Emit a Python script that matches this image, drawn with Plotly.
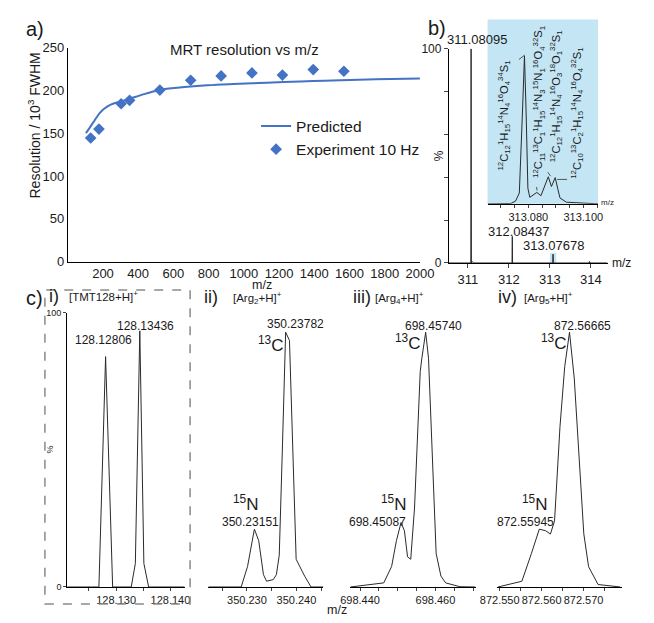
import plotly.graph_objects as go

W, H = 654, 623
FONT = "Liberation Sans, Arial, sans-serif"
INK = "#1a1a1a"
BLUE = "#4472C4"
SKY = "#c4e5f4"

# ---------------- panel a: resolution vs m/z ----------------
exp_mz = [130, 177, 303, 351, 523, 698, 871, 1046, 1219, 1394, 1568]
exp_res = [144.5, 155, 184.5, 188.5, 200.5, 212, 217, 220.5, 218, 224.5, 222.5]
pred_mz = [103, 126, 153, 180, 208, 244, 303, 352, 415, 523, 649, 793, 938,
           1082, 1226, 1394, 1551, 1750, 2000]
pred_res = [150.2, 157, 165.3, 173.3, 179, 183.6, 187.4, 190.4, 194.6, 200.7,
            203.7, 206, 207.5, 208.7, 209.8, 211, 212.1, 213, 214]
a_xticks = [200, 400, 600, 800, 1000, 1200, 1400, 1600, 1800, 2000]
a_yticks = [0, 50, 100, 150, 200, 250]

# ---------------- panel b: full spectrum ----------------
b_mz = [310.54, 311.074, 311.08095, 311.088, 311.10, 311.14, 312.078, 312.08437,
        312.091, 313.070, 313.07678, 313.084, 313.955, 313.965, 313.975, 314.40]
b_int = [0, 0, 100, 0, 0.8, 0, 0, 12.4, 0, 0, 4.1, 0, 0, 0.7, 0, 0]
b_peaks = [("311.08095", 311.08095), ("312.08437", 312.08437), ("313.07678", 313.07678)]
b_xticks = [311, 312, 313, 314]
b_yticks = [0, 20, 40, 60, 80, 100]
b_yticktext = ["0", "", "", "", "", "100"]

# inset: fine structure of the 313 cluster
ins_mz = [313.06522, 313.07363, 313.07536, 313.07675, 313.07785, 313.07862,
          313.07924, 313.07986, 313.08055, 313.08311, 313.08460, 313.08599,
          313.08727, 313.08841, 313.08979, 313.09066, 313.09152, 313.09384,
          313.09844, 313.10536]
ins_int = [0, 0.2, 1.8, 7.3, 60, 100, 60, 10.6, 4.4, 7.7, 5.5, 11.9, 18.3,
           11.7, 17.7, 10.6, 4.0, 1.1, 0.7, 0]
ins_ticks = [313.065, 313.070, 313.075, 313.080, 313.085, 313.090, 313.095, 313.100, 313.105]
ins_ticktext = ["", "", "", "313.080", "", "", "", "313.100", ""]
formulas = [
    "<sup>12</sup>C<sub>12</sub><sup>1</sup>H<sub>15</sub><sup>14</sup>N<sub>4</sub><sup>16</sup>O<sub>4</sub><sup>34</sup>S<sub>1</sub>",
    "<sup>12</sup>C<sub>11</sub><sup>13</sup>C<sub>1</sub><sup>1</sup>H<sub>15</sub><sup>14</sup>N<sub>3</sub><sup>15</sup>N<sub>1</sub><sup>16</sup>O<sub>4</sub><sup>32</sup>S<sub>1</sub>",
    "<sup>12</sup>C<sub>12</sub><sup>1</sup>H<sub>15</sub><sup>14</sup>N<sub>4</sub><sup>16</sup>O<sub>3</sub><sup>18</sup>O<sub>1</sub><sup>32</sup>S<sub>1</sub>",
    "<sup>12</sup>C<sub>10</sub><sup>13</sup>C<sub>2</sub><sup>1</sup>H<sub>15</sub><sup>14</sup>N<sub>4</sub><sup>16</sup>O<sub>4</sub><sup>32</sup>S<sub>1</sub>",
]

# ---------------- panel c: isotope fine structure ----------------
ci_mz = [128.12099, 128.12683, 128.12806, 128.12936, 128.13278, 128.13354,
         128.13436, 128.13511, 128.13599, 128.14262]
ci_int = [0, 0, 84.0, 0, 0, 8.6, 93.4, 8.6, 0, 0]
ci_ticks = [128.125, 128.130, 128.135, 128.140]
ci_ticktext = ["", "128.130", "", "128.140"]

cii_mz = [350.22224, 350.22884, 350.23013, 350.23151, 350.23238, 350.23334,
          350.23397, 350.23532, 350.23595, 350.23653, 350.23719, 350.23782,
          350.23859, 350.23994, 350.24167, 350.24295, 350.24545]
cii_int = [0, 0, 7.5, 21.1, 16.9, 4.5, 2.1, 2.7, 4.5, 11.6, 52.5, 92.9,
           89.9, 10.1, 3.9, 0, 0]
cii_ticks = [350.225, 350.230, 350.235, 350.240, 350.245]
cii_ticktext = ["", "350.230", "", "350.240", ""]

ciii_mz = [698.43745, 698.44629, 698.44838, 698.44965, 698.45087, 698.45177,
           698.45260, 698.45344, 698.45445, 698.45596, 698.45639, 698.45740,
           698.45816, 698.45917, 698.46018, 698.46144, 698.46270, 698.46649,
           698.47053]
ciii_int = [0, 1.5, 7.5, 16.9, 23.5, 20.5, 11.0, 10.1, 28.8, 78.6, 83.4, 92.9,
            83.4, 44.2, 12.2, 4.0, 1.5, 0.1, 0]
ciii_ticks = [698.440, 698.445, 698.450, 698.455, 698.460, 698.465, 698.470]
ciii_ticktext = ["698.440", "", "", "", "698.460", "", ""]

civ_mz = [872.54960, 872.55529, 872.55756, 872.55870, 872.55945, 872.56097,
          872.56210, 872.56308, 872.56438, 872.56551, 872.56665, 872.56778,
          872.56892, 872.57006, 872.57120, 872.57347, 872.57877]
civ_int = [0, 2.1, 12.2, 18.1, 21.1, 20.5, 19.3, 24.1, 58.5, 80.4, 92.9,
           76.2, 45.4, 19.4, 7.4, 0.9, 0]
civ_ticks = [872.550, 872.555, 872.560, 872.565, 872.570, 872.575]
civ_ticktext = ["872.550", "", "872.560", "", "872.570", ""]


def dom_x(x0, x1):
    return [x0 / W, x1 / W]


def dom_y(top, bottom):
    return [1 - bottom / H, 1 - top / H]


fig = go.Figure()

# panel a traces
fig.add_trace(go.Scatter(x=pred_mz, y=pred_res, mode="lines", name="Predicted",
                         line=dict(color=BLUE, width=2, shape="spline", smoothing=1.0),
                         xaxis="x", yaxis="y"))
fig.add_trace(go.Scatter(x=exp_mz, y=exp_res, mode="markers", name="Experiment 10 Hz",
                         marker=dict(symbol="diamond", size=9, color=BLUE),
                         xaxis="x", yaxis="y"))

spec_line = dict(color="#2a2a2a", width=1)
fig.add_trace(go.Scatter(x=b_mz, y=b_int, mode="lines", line=spec_line,
                         showlegend=False, xaxis="x2", yaxis="y2"))
fig.add_trace(go.Scatter(x=ins_mz, y=ins_int, mode="lines", line=spec_line,
                         showlegend=False, xaxis="x3", yaxis="y3"))
for i, (mz, it) in enumerate([(ci_mz, ci_int), (cii_mz, cii_int),
                              (ciii_mz, ciii_int), (civ_mz, civ_int)]):
    n = i + 4
    fig.add_trace(go.Scatter(x=mz, y=it, mode="lines", line=spec_line,
                             showlegend=False, xaxis=f"x{n}", yaxis=f"y{n}"))

axis_common = dict(showgrid=False, zeroline=False, showline=True, linecolor="black",
                   linewidth=1, tickfont=dict(family=FONT, color=INK))

layout = dict(
    width=W, height=H, margin=dict(l=0, r=0, t=0, b=0),
    paper_bgcolor="white", plot_bgcolor="rgba(0,0,0,0)",
    font=dict(family=FONT, color=INK),
    showlegend=True,
    legend=dict(x=251 / W, y=1 - 105 / H, xanchor="left", yanchor="top",
                bgcolor="rgba(0,0,0,0)", font=dict(size=15.5, family=FONT, color=INK),
                tracegroupgap=0),
)

layout["xaxis"] = dict(axis_common, domain=dom_x(53.3, 423), range=[0, 2000],
                       tickvals=a_xticks, ticks="", anchor="y")
layout["xaxis"]["tickfont"] = dict(family=FONT, color=INK, size=13)
layout["yaxis"] = dict(axis_common, domain=dom_y(41.7, 261), range=[0, 250],
                       tickvals=a_yticks, ticks="", anchor="x")
layout["yaxis"]["tickfont"] = dict(family=FONT, color=INK, size=13)

layout["xaxis2"] = dict(axis_common, domain=dom_x(453.3, 620), range=[310.538, 314.406],
                        tickvals=b_xticks, ticks="outside", ticklen=4, anchor="y2")
layout["xaxis2"]["tickfont"] = dict(family=FONT, color=INK, size=13)
layout["yaxis2"] = dict(axis_common, domain=dom_y(42.7, 262.3), range=[0, 100],
                        tickvals=b_yticks, ticktext=b_yticktext, ticks="outside",
                        ticklen=4, anchor="x2")
layout["yaxis2"]["tickfont"] = dict(family=FONT, color=INK, size=12)

layout["xaxis3"] = dict(axis_common, domain=dom_x(494, 610), range=[313.06522, 313.10536],
                        tickvals=ins_ticks, ticktext=ins_ticktext, ticks="outside",
                        ticklen=3, anchor="y3")
layout["xaxis3"]["tickfont"] = dict(family=FONT, color=INK, size=11)
layout["yaxis3"] = dict(domain=dom_y(12.7, 201.7), range=[0, 124.6], visible=False,
                        anchor="x3")

c_top, c_bot = 313.3, 594.3
c_specs = [
    (4, (52.7, 176), [128.12099, 128.14262], ci_ticks, ci_ticktext),
    (5, (201, 321.7), [350.22224, 350.24545], cii_ticks, cii_ticktext),
    (6, (350, 481.7), [698.43745, 698.47071], ciii_ticks, ciii_ticktext),
    (7, (504, 635), [872.54938, 872.57915], civ_ticks, civ_ticktext),
]
for n, (x0, x1), rng, tv, tt in c_specs:
    layout[f"xaxis{n}"] = dict(axis_common, domain=dom_x(x0, x1), range=rng,
                               tickvals=tv, ticktext=tt, ticks="outside", ticklen=3,
                               anchor=f"y{n}")
    layout[f"xaxis{n}"]["tickfont"] = dict(family=FONT, color=INK, size=11)
    if n == 4:
        layout["yaxis4"] = dict(axis_common, domain=dom_y(c_top, c_bot), range=[0, 100],
                                tickvals=[0, 100], ticks="outside", ticklen=3, anchor="x4")
        layout["yaxis4"]["tickfont"] = dict(family=FONT, color=INK, size=9)
    else:
        layout[f"yaxis{n}"] = dict(domain=dom_y(c_top, c_bot), range=[0, 100],
                                   visible=False, anchor=f"x{n}")

fig.update_layout(**layout)

# ---------------- text ----------------
def note(text, x, y, size, angle=0, anchor="center", color=INK):
    fig.add_annotation(text=text, x=x / W, y=1 - y / H, xref="paper", yref="paper",
                       showarrow=False, xanchor=anchor, yanchor="middle",
                       textangle=angle, font=dict(family=FONT, size=size, color=color))

note("a)", 18.5, 23, 20)
note("b)", 441, 21.7, 20)
note("c)", 18, 298, 20)
note("MRT resolution vs m/z", 238.3, 43.3, 15)
note("Resolution / 10<sup>3</sup> FWHM", 18.3, 121, 14, angle=-90)
note("m/z", 257, 284.5, 12.5)

note("%", 443.3, 152.7, 12, angle=-90)
note("m/z", 635, 262.7, 12)
for (txt, _), (x, y) in zip(b_peaks, [(483.3, 33.3), (526, 230), (563.3, 244)]):
    note(txt, x, y, 13)
note("m/z", 620, 200.7, 8)
for txt, (x, y) in zip(formulas, [(511.7, 110.8), (547.7, 97.5), (566.7, 91.7), (588.3, 109)]):
    note(txt, x, y, 11.2, angle=-90)

note("i)", 39, 296, 18)
note("[TMT128+H]<sup>+</sup>", 53, 296, 11.5, anchor="left")
note("ii)", 204, 297, 18)
note("[Arg<sub>2</sub>+H]<sup>+</sup>", 225, 298, 11.5, anchor="left")
note("iii)", 362.5, 297, 18)
note("[Arg<sub>4</sub>+H]<sup>+</sup>", 373.3, 298, 11.5, anchor="left")
note("iv)", 515, 297, 18)
note("[Arg<sub>5</sub>+H]<sup>+</sup>", 530, 298, 11.5, anchor="left")
note("%", 35, 453, 9, angle=-90)
note("m/z", 336, 618, 12.5)

c_labels = [
    ("128.12806", 90.8, 341.7), ("128.13436", 135, 326.7),
    ("350.23782", 292, 325), ("350.23151", 245.3, 527.5),
    ("698.45740", 437, 326.7), ("698.45087", 378.3, 527.5),
    ("872.56665", 593.3, 326.7), ("872.55945", 533.3, 527.5),
]
for txt, x, y in c_labels:
    note(txt, x, y, 12)
for x, y in [(267, 345), (410.8, 343.3), (563.3, 343.3)]:
    note("<sup>13</sup>C", x, y, 17)
for x, y in [(240.3, 508.5), (395.8, 508.5), (543.3, 508.5)]:
    note("<sup>15</sup>N", x, y, 17)

# ---------------- shapes ----------------
# inset background and highlighted cluster
fig.add_shape(type="rect", xref="x3 domain", yref="y3 domain", x0=0, x1=1, y0=0, y1=1,
              fillcolor=SKY, line=dict(width=0), layer="below")
fig.add_shape(type="rect", xref="x2", yref="y2", x0=313.0, x1=313.155, y0=0, y1=4.6,
              fillcolor=SKY, line=dict(width=0), layer="below")
# leader lines from formulas to inset peaks
for (xa, ya, xb, yb) in [(313.0766, 97.5, 313.0787, 100.5),
                         (313.0830, 11.4, 313.0832, 9.0),
                         (313.0871, 21.4, 313.0881, 18.7),
                         (313.0905, 16.5, 313.0941, 16.5)]:
    fig.add_shape(type="line", xref="x3", yref="y3", x0=xa, y0=ya, x1=xb, y1=yb,
                  line=dict(color="#333333", width=0.8))
# dashed frame round sub-panel i
fig.add_shape(type="rect", xref="paper", yref="paper", x0=29.3 / W, x1=181.7 / W,
              y0=1 - 611.7 / H, y1=1 - 290 / H,
              line=dict(color="#8a8a8a", width=1.5, dash="dash"), fillcolor="rgba(0,0,0,0)")

fig.write_html("out.html")
